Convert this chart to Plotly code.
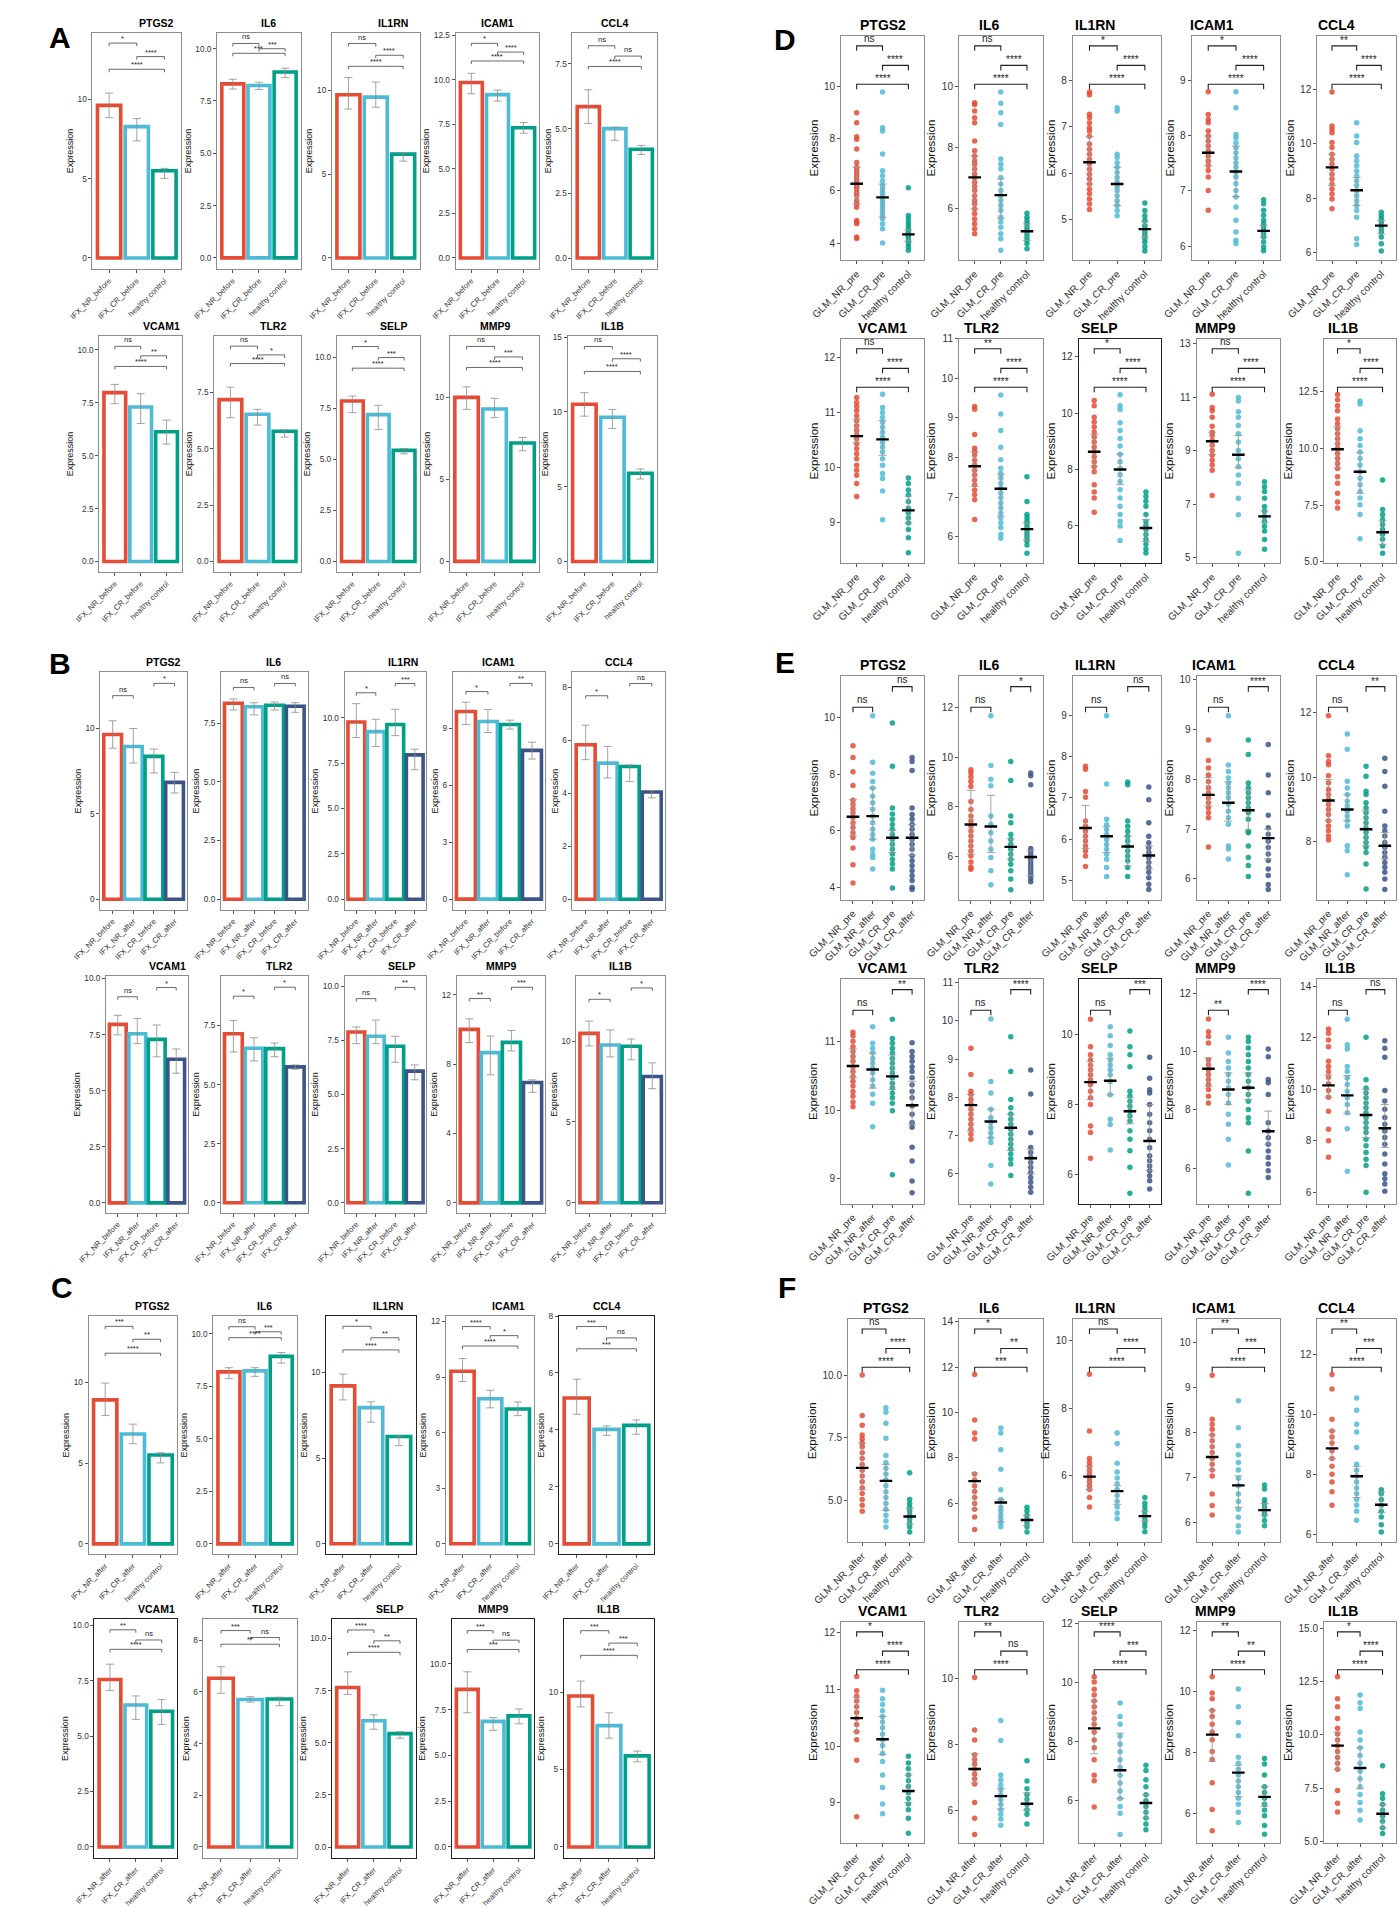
import plotly.graph_objects as go

W, H = 1399, 1908
FONT = "Liberation Sans, Arial, Helvetica, sans-serif"
NARROW = "Liberation Sans Narrow, Arial Narrow, Liberation Sans, Arial, sans-serif"
NPG = ["#E64B35", "#4DBBD5", "#00A087", "#3C5488"]
GENES = ["PTGS2", "IL6", "IL1RN", "ICAM1", "CCL4", "VCAM1", "TLR2", "SELP", "MMP9", "IL1B"]

# ---------------- bar panels (A, B, C): mean, error bar low / high ----------------
A_GROUPS = ["IFX_NR_before", "IFX_CR_before", "healthy control"]
A_MEAN = {
    "PTGS2": [9.62, 8.28, 5.50], "IL6": [8.32, 8.24, 8.89], "IL1RN": [9.74, 9.60, 6.20],
    "ICAM1": [9.84, 9.16, 7.30], "CCL4": [5.85, 5.00, 4.20], "VCAM1": [7.98, 7.30, 6.13],
    "TLR2": [7.17, 6.52, 5.77], "SELP": [7.87, 7.20, 5.45], "MMP9": [9.98, 9.27, 7.20],
    "IL1B": [10.52, 9.65, 5.90],
}
A_LO = {
    "PTGS2": [8.85, 7.38, 5.02], "IL6": [8.07, 8.05, 8.62], "IL1RN": [8.89, 9.00, 5.78],
    "ICAM1": [9.21, 8.80, 7.00], "CCL4": [5.20, 4.55, 4.00], "VCAM1": [7.46, 6.52, 5.55],
    "TLR2": [6.37, 6.04, 5.51], "SELP": [7.30, 6.47, 5.28], "MMP9": [9.25, 8.75, 6.73],
    "IL1B": [9.72, 8.90, 5.52],
}
A_HI = {
    "PTGS2": [10.40, 8.79, 5.65], "IL6": [8.54, 8.40, 9.07], "IL1RN": [10.77, 10.50, 6.26],
    "ICAM1": [10.36, 9.42, 7.60], "CCL4": [6.50, 5.05, 4.35], "VCAM1": [8.37, 7.93, 6.68],
    "TLR2": [7.72, 6.74, 5.83], "SELP": [8.11, 7.66, 5.54], "MMP9": [10.62, 9.92, 7.54],
    "IL1B": [11.29, 10.16, 6.19],
}
A_SIG = {
    "PTGS2": [("*", 1, 2, 13.55), ("****", 2, 3, 12.7), ("****", 1, 3, 11.9)],
    "IL6": [("ns", 1, 2, 10.25), ("***", 2, 3, 10.0), ("***", 1, 3, 9.78)],
    "IL1RN": [("ns", 1, 2, 12.8), ("****", 2, 3, 12.1), ("****", 1, 3, 11.44)],
    "ICAM1": [("*", 1, 2, 12.04), ("****", 2, 3, 11.55), ("****", 1, 3, 11.05)],
    "CCL4": [("ns", 1, 2, 8.2), ("ns", 2, 3, 7.8), ("****", 1, 3, 7.4)],
    "VCAM1": [("ns", 1, 2, 10.17), ("**", 2, 3, 9.72), ("****", 1, 3, 9.22)],
    "TLR2": [("ns", 1, 2, 9.54), ("*", 2, 3, 9.15), ("****", 1, 3, 8.77)],
    "SELP": [("*", 1, 2, 10.54), ("***", 2, 3, 10.0), ("****", 1, 3, 9.48)],
    "MMP9": [("ns", 1, 2, 13.08), ("***", 2, 3, 12.44), ("****", 1, 3, 11.8)],
    "IL1B": [("ns", 1, 2, 14.38), ("****", 2, 3, 13.56), ("****", 1, 3, 12.71)],
}

B_GROUPS = ["IFX_NR_before", "IFX_NR_after", "IFX_CR_before", "IFX_CR_after"]
B_MEAN = {
    "PTGS2": [9.63, 8.93, 8.35, 6.83], "IL6": [8.35, 8.20, 8.26, 8.22],
    "IL1RN": [9.76, 9.23, 9.62, 7.95], "ICAM1": [9.90, 9.37, 9.21, 7.85],
    "CCL4": [5.82, 5.13, 5.00, 4.04], "VCAM1": [7.96, 7.54, 7.29, 6.40],
    "TLR2": [7.15, 6.54, 6.52, 5.75], "SELP": [7.89, 7.69, 7.23, 6.08],
    "MMP9": [10.0, 8.66, 9.25, 6.94], "IL1B": [10.49, 9.77, 9.69, 7.82],
}
B_LO = {
    "PTGS2": [8.83, 7.96, 7.38, 6.21], "IL6": [8.06, 7.85, 8.06, 7.96],
    "IL1RN": [8.90, 8.41, 9.01, 7.13], "ICAM1": [9.21, 8.79, 8.97, 7.39],
    "CCL4": [5.26, 4.57, 4.44, 3.82], "VCAM1": [7.49, 7.10, 6.51, 5.78],
    "TLR2": [6.38, 6.00, 6.18, 5.65], "SELP": [7.35, 7.35, 6.49, 5.68],
    "MMP9": [9.24, 7.38, 8.76, 6.37], "IL1B": [9.71, 9.03, 8.85, 7.06],
}
B_HI = {
    "PTGS2": [10.43, 9.98, 8.78, 7.42], "IL6": [8.53, 8.37, 8.40, 8.37],
    "IL1RN": [10.77, 9.91, 10.46, 8.26], "ICAM1": [10.39, 10.0, 9.44, 8.28],
    "CCL4": [6.56, 5.76, 5.06, 4.10], "VCAM1": [8.36, 8.22, 7.93, 6.86],
    "TLR2": [7.71, 6.98, 6.76, 5.83], "SELP": [8.12, 8.44, 7.69, 6.37],
    "MMP9": [10.61, 9.62, 9.94, 7.09], "IL1B": [11.25, 10.70, 10.14, 8.66],
}
B_SIG = {
    "PTGS2": [("ns", 1, 2, 11.9), ("*", 3, 4, 12.62)],
    "IL6": [("ns", 1, 2, 9.02), ("ns", 3, 4, 9.19)],
    "IL1RN": [("*", 1, 2, 11.37), ("***", 3, 4, 11.88)],
    "ICAM1": [("*", 1, 2, 10.95), ("**", 3, 4, 11.38)],
    "CCL4": [("*", 1, 2, 7.67), ("ns", 3, 4, 8.13)],
    "VCAM1": [("ns", 1, 2, 9.19), ("*", 3, 4, 9.6)],
    "TLR2": [("*", 1, 2, 8.74), ("*", 3, 4, 9.12)],
    "SELP": [("ns", 1, 2, 9.43), ("**", 3, 4, 9.95)],
    "MMP9": [("**", 1, 2, 11.78), ("***", 3, 4, 12.43)],
    "IL1B": [("*", 1, 2, 12.6), ("*", 3, 4, 13.3)],
}

C_GROUPS = ["IFX_NR_after", "IFX_CR_after", "healthy control"]
C_MEAN = {
    "PTGS2": [8.91, 6.80, 5.50], "IL6": [8.18, 8.23, 8.92], "IL1RN": [9.22, 7.95, 6.26],
    "ICAM1": [9.32, 7.83, 7.28], "CCL4": [5.12, 4.02, 4.16], "VCAM1": [7.55, 6.40, 6.12],
    "TLR2": [6.53, 5.71, 5.73], "SELP": [7.65, 6.06, 5.44], "MMP9": [8.61, 6.86, 7.16],
    "IL1B": [9.75, 7.83, 5.88],
}
C_LO = {
    "PTGS2": [7.94, 6.20, 5.01], "IL6": [7.86, 7.97, 8.60], "IL1RN": [8.40, 7.10, 5.73],
    "ICAM1": [8.76, 7.34, 6.92], "CCL4": [4.55, 3.81, 3.85], "VCAM1": [7.05, 5.75, 5.52],
    "TLR2": [5.95, 5.61, 5.47], "SELP": [7.32, 5.65, 5.22], "MMP9": [7.33, 6.37, 6.73],
    "IL1B": [9.04, 7.02, 5.50],
}
C_HI = {
    "PTGS2": [9.95, 7.41, 5.64], "IL6": [8.38, 8.38, 9.10], "IL1RN": [9.91, 8.29, 6.28],
    "ICAM1": [10.0, 8.29, 7.66], "CCL4": [5.78, 4.14, 4.35], "VCAM1": [8.24, 6.81, 6.65],
    "TLR2": [6.98, 5.82, 5.80], "SELP": [8.40, 6.34, 5.53], "MMP9": [9.57, 7.07, 7.54],
    "IL1B": [10.71, 8.66, 6.19],
}
C_SIG = {
    "PTGS2": [("***", 1, 2, 13.46), ("**", 2, 3, 12.66), ("****", 1, 3, 11.8)],
    "IL6": [("ns", 1, 2, 10.33), ("***", 2, 3, 10.09), ("****", 1, 3, 9.81)],
    "IL1RN": [("*", 1, 2, 12.7), ("**", 2, 3, 12.03), ("****", 1, 3, 11.32)],
    "ICAM1": [("****", 1, 2, 11.73), ("*", 2, 3, 11.24), ("****", 1, 3, 10.68)],
    "CCL4": [("***", 1, 2, 7.63), ("ns", 2, 3, 7.23), ("***", 1, 3, 6.85)],
    "VCAM1": [("**", 1, 2, 9.79), ("ns", 2, 3, 9.33), ("****", 1, 3, 8.91)],
    "TLR2": [("***", 1, 2, 8.38), ("ns", 2, 3, 8.11), ("**", 1, 3, 7.85)],
    "SELP": [("****", 1, 2, 10.41), ("**", 2, 3, 9.89), ("****", 1, 3, 9.34)],
    "MMP9": [("***", 1, 2, 11.82), ("ns", 2, 3, 11.3), ("***", 1, 3, 10.79)],
    "IL1B": [("***", 1, 2, 13.96), ("***", 2, 3, 13.16), ("****", 1, 3, 12.37)],
}

# y axis (range low, range high, tick values) for every bar subplot
A_AXIS = {
    "PTGS2": (-0.71, 14.2, [0, 5, 10]), "IL6": (-0.54, 10.76, [0, 2.5, 5, 7.5, 10]),
    "IL1RN": (-0.67, 13.44, [0, 5, 10]), "ICAM1": (-0.63, 12.63, [0, 2.5, 5, 7.5, 10, 12.5]),
    "CCL4": (-0.43, 8.7, [0, 2.5, 5, 7.5]), "VCAM1": (-0.5, 10.67, [0, 2.5, 5, 7.5, 10]),
    "TLR2": (-0.47, 10.0, [0, 2.5, 5, 7.5]), "SELP": (-0.52, 11.07, [0, 2.5, 5, 7.5, 10]),
    "MMP9": (-0.65, 13.73, [0, 5, 10]), "IL1B": (-0.71, 15.1, [0, 5, 10, 15]),
}
B_AXIS = {
    "PTGS2": (-0.62, 13.26, [0, 5, 10]), "IL6": (-0.45, 9.66, [0, 2.5, 5, 7.5]),
    "IL1RN": (-0.58, 12.49, [0, 2.5, 5, 7.5, 10]), "ICAM1": (-0.56, 11.96, [0, 3, 6, 9]),
    "CCL4": (-0.4, 8.55, [0, 2, 4, 6, 8]), "VCAM1": (-0.44, 10.1, [0, 2.5, 5, 7.5, 10]),
    "TLR2": (-0.42, 9.58, [0, 2.5, 5, 7.5]), "SELP": (-0.46, 10.46, [0, 2.5, 5, 7.5, 10]),
    "MMP9": (-0.57, 13.06, [0, 4, 8, 12]), "IL1B": (-0.62, 14.02, [0, 5, 10]),
}
C_AXIS = {
    "PTGS2": (-0.65, 14.1, [0, 5, 10]), "IL6": (-0.5, 10.84, [0, 2.5, 5, 7.5, 10]),
    "IL1RN": (-0.62, 13.3, [0, 5, 10]), "ICAM1": (-0.57, 12.3, [0, 3, 6, 9, 12]),
    "CCL4": (-0.37, 8.0, [0, 2, 4, 6, 8]), "VCAM1": (-0.51, 10.28, [0, 2.5, 5, 7.5, 10]),
    "TLR2": (-0.44, 8.83, [0, 2, 4, 6, 8]), "SELP": (-0.54, 10.94, [0, 2.5, 5, 7.5, 10]),
    "MMP9": (-0.62, 12.46, [0, 2.5, 5, 7.5, 10]), "IL1B": (-0.73, 14.72, [0, 5, 10]),
}

# ---------------- dot panels (D, E, F): points per group, median, error bar ----------------
D_GROUPS = ["GLM_NR_pre", "GLM_CR_pre", "healthy control"]
D_PTS = {
    "PTGS2": [[8.99, 8.61, 8.07, 7.98, 7.6, 7.09, 6.9, 6.77, 6.64, 6.52, 6.39, 6.26, 6.16, 6.07, 5.94, 5.82, 5.63, 5.5, 5.37, 4.86, 4.8, 4.74, 4.23, 4.17],
              [9.79, 8.42, 8.29, 7.41, 6.77, 6.58, 6.39, 6.2, 6.07, 5.94, 5.82, 5.69, 5.56, 5.44, 5.31, 5.18, 5.05, 4.93, 4.74, 4.55, 4.0],
              [6.12, 5.05, 4.93, 4.8, 4.67, 4.55, 4.42, 4.36, 4.29, 4.23, 4.1, 3.97, 3.85, 3.72]],
    "IL6": [[9.47, 9.41, 9.2, 8.98, 8.82, 8.22, 7.9, 7.73, 7.57, 7.46, 7.3, 7.14, 7.03, 6.87, 6.73, 6.6, 6.43, 6.27, 6.16, 6.0, 5.84, 5.67, 5.51, 5.35, 5.19],
            [9.82, 9.45, 9.14, 8.76, 7.63, 7.46, 7.3, 7.03, 6.81, 6.6, 6.43, 6.27, 6.11, 5.95, 5.73, 5.57, 5.4, 5.19, 5.02, 4.65],
            [5.86, 5.73, 5.62, 5.51, 5.4, 5.3, 5.19, 5.08, 4.97, 4.86, 4.7]],
    "IL1RN": [[7.75, 7.69, 7.27, 7.2, 7.09, 6.98, 6.91, 6.8, 6.63, 6.52, 6.41, 6.3, 6.2, 6.09, 5.98, 5.88, 5.77, 5.66, 5.56, 5.45, 5.34, 5.22],
              [7.41, 7.34, 6.41, 6.34, 6.23, 6.13, 6.02, 5.91, 5.81, 5.71, 5.63, 5.52, 5.41, 5.31, 5.2, 5.09],
              [5.36, 5.2, 5.09, 4.99, 4.88, 4.81, 4.74, 4.67, 4.59, 4.52, 4.42, 4.33]],
    "ICAM1": [[8.79, 8.38, 8.29, 8.23, 8.08, 7.99, 7.9, 7.81, 7.72, 7.63, 7.54, 7.46, 7.37, 7.25, 7.01, 6.65],
              [8.79, 8.5, 8.02, 7.96, 7.87, 7.78, 7.69, 7.6, 7.51, 7.43, 7.34, 7.25, 7.13, 7.01, 6.89, 6.71, 6.47, 6.26, 6.11, 6.05],
              [6.84, 6.77, 6.65, 6.56, 6.47, 6.41, 6.35, 6.29, 6.23, 6.17, 6.08, 5.99, 5.92]],
    "CCL4": [[11.9, 10.65, 10.53, 10.4, 10.04, 9.86, 9.61, 9.43, 9.25, 9.07, 8.88, 8.7, 8.52, 8.34, 8.15, 7.97, 7.61],
             [10.77, 10.28, 10.04, 9.55, 9.37, 9.19, 9.0, 8.82, 8.64, 8.46, 8.27, 8.09, 7.9, 7.73, 7.55, 7.3, 6.51, 6.3],
             [7.48, 7.36, 7.24, 7.12, 7.0, 6.88, 6.75, 6.57, 6.33, 6.06]],
    "VCAM1": [[11.27, 11.18, 11.11, 11.03, 10.94, 10.85, 10.76, 10.67, 10.59, 10.52, 10.43, 10.34, 10.25, 10.16, 10.04, 9.95, 9.86, 9.71, 9.47],
              [11.33, 11.09, 11.0, 10.91, 10.82, 10.73, 10.64, 10.55, 10.46, 10.37, 10.28, 10.16, 10.04, 9.89, 9.8, 9.57, 9.05],
              [9.81, 9.71, 9.59, 9.5, 9.38, 9.26, 9.17, 9.08, 8.99, 8.87, 8.72, 8.45]],
    "TLR2": [[9.29, 9.22, 8.58, 8.23, 8.16, 8.06, 7.93, 7.81, 7.68, 7.56, 7.43, 7.31, 7.18, 7.06, 6.93, 6.43],
             [9.58, 9.1, 8.68, 8.26, 7.94, 7.73, 7.6, 7.48, 7.35, 7.23, 7.1, 6.98, 6.85, 6.73, 6.6, 6.48, 6.35, 6.23, 6.06, 5.96],
             [7.51, 6.89, 6.56, 6.48, 6.39, 6.31, 6.23, 6.14, 6.06, 5.98, 5.89, 5.79, 5.58]],
    "SELP": [[10.45, 10.27, 9.86, 9.69, 9.51, 9.33, 9.16, 8.98, 8.8, 8.63, 8.45, 8.28, 8.1, 7.92, 7.46, 7.2, 6.99, 6.48],
             [10.66, 10.27, 10.13, 9.66, 9.39, 9.1, 8.84, 8.54, 8.28, 8.04, 7.81, 7.57, 7.28, 6.99, 6.69, 6.4, 6.16, 5.99, 5.48],
             [7.2, 7.04, 6.87, 6.69, 6.4, 6.16, 6.02, 5.87, 5.69, 5.52, 5.34, 5.17, 5.03]],
    "MMP9": [[11.11, 10.62, 10.49, 10.25, 9.91, 9.69, 9.57, 9.38, 9.2, 9.01, 8.83, 8.64, 8.46, 8.27, 7.32],
             [10.99, 10.86, 10.46, 10.25, 9.94, 9.63, 9.32, 9.01, 8.7, 8.4, 8.09, 7.78, 7.22, 6.6, 5.16],
             [7.84, 7.65, 7.47, 7.22, 6.91, 6.73, 6.54, 6.36, 6.17, 5.99, 5.68, 5.31]],
    "IL1B": [[12.37, 12.14, 11.88, 11.66, 11.29, 11.08, 10.86, 10.64, 10.42, 10.2, 9.99, 9.77, 9.55, 9.33, 9.11, 8.75, 8.46, 8.02, 7.63, 7.37],
             [12.09, 11.95, 10.78, 10.42, 10.13, 9.84, 9.55, 9.26, 8.97, 8.68, 8.39, 8.1, 7.81, 7.51, 7.08, 6.02],
             [8.6, 7.3, 7.08, 6.86, 6.64, 6.42, 6.21, 5.99, 5.7, 5.38]],
}
D_MED = {"PTGS2": [6.27, 5.75, 4.33], "IL6": [7.03, 6.45, 5.27], "IL1RN": [6.24, 5.77, 4.8],
         "ICAM1": [7.69, 7.35, 6.28], "CCL4": [9.13, 8.29, 6.99], "VCAM1": [10.57, 10.51, 9.22],
         "TLR2": [7.78, 7.21, 6.19], "SELP": [8.63, 8.0, 5.92], "MMP9": [9.35, 8.85, 6.54],
         "IL1B": [9.96, 8.97, 6.3]}
D_LO = {"PTGS2": [5.5, 4.99, 4.05], "IL6": [6.0, 5.68, 4.97], "IL1RN": [5.77, 5.31, 4.63],
        "ICAM1": [7.46, 6.9, 6.17], "CCL4": [8.46, 7.73, 6.69], "VCAM1": [10.45, 10.22, 8.99],
        "TLR2": [7.27, 6.52, 5.91], "SELP": [8.13, 7.46, 5.44], "MMP9": [8.85, 8.36, 6.3],
        "IL1B": [9.14, 8.02, 5.77]}
D_HI = {"PTGS2": [6.9, 6.26, 4.5], "IL6": [7.73, 6.98, 5.51], "IL1RN": [6.79, 6.13, 4.95],
        "ICAM1": [7.99, 7.81, 6.38], "CCL4": [9.61, 8.76, 7.18], "VCAM1": [10.88, 10.85, 9.48],
        "TLR2": [8.14, 7.56, 6.35], "SELP": [9.24, 8.55, 6.22], "MMP9": [9.69, 9.57, 6.75],
        "IL1B": [10.97, 9.81, 6.79]}
D_SIG = {"PTGS2": ["ns", "****", "****"], "IL6": ["ns", "****", "****"], "IL1RN": ["*", "****", "****"],
         "ICAM1": ["*", "****", "****"], "CCL4": ["**", "****", "****"], "VCAM1": ["ns", "****", "****"],
         "TLR2": ["**", "****", "****"], "SELP": ["*", "****", "****"], "MMP9": ["ns", "****", "****"],
         "IL1B": ["*", "****", "****"]}

E_GROUPS = ["GLM_NR_pre", "GLM_NR_after", "GLM_CR_pre", "GLM_CR_after"]
E_PTS = {
    "PTGS2": [[8.99, 8.58, 8.08, 7.6, 7.08, 6.93, 6.78, 6.64, 6.47, 6.29, 6.12, 5.94, 5.77, 5.4, 4.81, 4.17],
              [10.05, 8.41, 8.03, 7.74, 7.51, 7.22, 6.99, 6.76, 6.52, 6.29, 6.06, 5.88, 5.71, 5.36, 5.19, 5.07, 4.66],
              [9.79, 8.27, 6.81, 6.6, 6.41, 6.23, 6.06, 5.88, 5.71, 5.53, 5.36, 5.19, 5.01, 4.84, 4.66, 4.0],
              [8.58, 8.44, 8.12, 6.81, 6.58, 6.41, 6.23, 6.06, 5.88, 5.71, 5.53, 5.36, 5.13, 4.95, 4.78, 4.6, 4.43, 4.26, 4.02, 3.94]],
    "IL6": [[9.49, 9.36, 9.2, 9.02, 8.82, 8.21, 7.89, 7.62, 7.42, 7.22, 7.02, 6.82, 6.62, 6.41, 6.21, 6.01, 5.77, 5.57, 5.48],
            [11.67, 9.66, 9.11, 8.85, 7.62, 7.28, 6.95, 6.62, 6.28, 5.95, 5.41, 4.85],
            [9.82, 9.06, 7.62, 7.35, 6.88, 6.68, 6.48, 6.28, 6.08, 5.88, 5.68, 5.41, 5.08, 4.65],
            [9.36, 9.25, 8.89, 6.31, 6.17, 6.04, 5.91, 5.77, 5.64, 5.51, 5.37, 5.24, 5.1, 4.97]],
    "IL1RN": [[7.77, 7.7, 7.16, 7.02, 6.44, 6.31, 6.19, 6.07, 5.95, 5.83, 5.71, 5.59, 5.33],
              [9.0, 7.34, 6.48, 6.35, 6.23, 6.11, 5.99, 5.87, 5.75, 5.63, 5.51, 5.31, 5.09],
              [7.39, 7.32, 6.44, 6.31, 6.19, 6.07, 5.95, 5.83, 5.71, 5.59, 5.47, 5.31, 5.09],
              [7.27, 6.96, 6.4, 6.07, 5.91, 5.79, 5.67, 5.55, 5.43, 5.31, 5.19, 5.06, 4.9, 4.77]],
    "ICAM1": [[8.79, 8.38, 8.23, 8.09, 7.96, 7.83, 7.73, 7.63, 7.53, 7.43, 7.33, 7.23, 6.64],
              [9.28, 8.29, 8.16, 8.03, 7.93, 7.83, 7.73, 7.63, 7.5, 7.36, 7.23, 7.1, 6.66, 6.6, 6.4],
              [8.79, 8.5, 7.93, 7.83, 7.73, 7.63, 7.53, 7.43, 7.33, 7.2, 6.96, 6.93, 6.66, 6.43, 6.27, 6.05],
              [8.7, 8.09, 7.73, 7.28, 7.03, 6.9, 6.76, 6.63, 6.5, 6.37, 6.2, 6.07, 5.89, 5.79]],
    "CCL4": [[11.9, 10.66, 10.48, 10.38, 10.04, 9.82, 9.61, 9.46, 9.3, 9.15, 8.99, 8.84, 8.64, 8.48, 8.33, 8.17, 8.05],
             [11.33, 10.86, 9.87, 9.66, 9.46, 9.25, 9.1, 8.94, 8.79, 8.64, 8.48, 7.87, 7.71, 6.97],
             [10.33, 10.02, 9.56, 9.46, 9.2, 9.05, 8.89, 8.74, 8.58, 8.43, 8.28, 8.12, 7.97, 7.82, 7.66, 7.3, 6.53],
             [10.58, 10.17, 9.71, 8.94, 8.48, 8.33, 8.17, 7.97, 7.82, 7.66, 7.51, 7.35, 7.2, 7.05, 6.84, 6.51]],
    "VCAM1": [[11.13, 11.08, 11.0, 10.92, 10.85, 10.78, 10.71, 10.63, 10.56, 10.49, 10.42, 10.35, 10.27, 10.2, 10.12, 10.05],
              [11.21, 10.97, 10.9, 10.83, 10.75, 10.68, 10.61, 10.54, 10.44, 10.35, 10.23, 10.1, 9.76],
              [11.32, 11.04, 10.97, 10.9, 10.83, 10.75, 10.68, 10.61, 10.54, 10.47, 10.39, 10.32, 10.25, 10.18, 10.1, 9.99, 9.06],
              [10.98, 10.85, 10.78, 10.71, 10.63, 10.56, 10.47, 10.37, 10.27, 10.18, 10.06, 9.94, 9.82, 9.75, 9.46, 9.26, 8.97, 8.8]],
    "TLR2": [[9.29, 8.6, 8.16, 8.08, 7.95, 7.82, 7.69, 7.56, 7.43, 7.3, 7.17, 7.04, 6.91],
             [10.05, 8.42, 8.12, 7.69, 7.47, 7.34, 7.21, 7.08, 6.95, 6.82, 6.22, 5.74],
             [9.59, 8.68, 7.95, 7.73, 7.57, 7.43, 7.3, 7.17, 7.04, 6.91, 6.78, 6.65, 6.52, 6.39, 6.26, 5.96],
             [8.72, 8.09, 7.08, 6.69, 6.56, 6.43, 6.3, 6.17, 6.04, 5.91, 5.78, 5.65, 5.52]],
    "SELP": [[10.43, 9.65, 9.42, 9.27, 9.13, 8.99, 8.85, 8.71, 8.57, 8.38, 8.19, 8.0, 7.39, 7.2, 6.47],
             [10.22, 9.96, 9.68, 9.42, 9.27, 9.13, 8.99, 8.85, 8.66, 8.28, 7.58, 7.43, 6.7],
             [10.1, 9.65, 9.42, 9.08, 8.38, 8.24, 8.09, 7.95, 7.81, 7.67, 7.53, 7.25, 7.01, 6.68, 6.21, 5.47],
             [9.35, 8.75, 8.42, 8.33, 8.0, 7.72, 7.48, 7.25, 7.01, 6.77, 6.54, 6.4, 6.25, 6.11, 5.97, 5.83, 5.59]],
    "MMP9": [[11.11, 10.68, 10.51, 10.29, 9.72, 9.55, 9.38, 9.21, 9.04, 8.87, 8.7, 8.47, 8.24],
             [10.49, 9.95, 9.66, 9.44, 9.21, 8.98, 8.76, 8.53, 8.24, 7.85, 7.51, 7.0, 6.12],
             [10.49, 10.34, 10.12, 9.89, 9.66, 9.44, 9.21, 8.98, 8.76, 8.53, 8.3, 8.02, 7.73, 7.56, 6.6, 5.15],
             [10.09, 9.82, 9.04, 8.93, 8.53, 7.56, 7.28, 7.05, 6.83, 6.6, 6.37, 6.15, 5.92, 5.69]],
    "IL1B": [[12.33, 12.17, 11.91, 11.65, 11.08, 10.88, 10.69, 10.46, 10.21, 9.95, 9.69, 9.15, 8.45, 8.0, 7.36],
             [12.71, 11.72, 11.56, 10.88, 10.69, 10.44, 10.18, 9.92, 9.67, 9.41, 9.09, 8.47, 6.82],
             [12.01, 10.37, 10.05, 9.86, 9.67, 9.47, 9.28, 9.09, 8.9, 8.71, 8.51, 8.32, 8.06, 7.81, 7.55, 7.29, 7.04, 6.01],
             [11.88, 11.59, 11.24, 9.95, 9.54, 9.22, 8.9, 8.64, 8.38, 8.13, 7.87, 7.49, 7.1, 6.72, 6.53, 6.33, 6.05]],
}
E_MED = {"PTGS2": [6.5, 6.52, 5.76, 5.76], "IL6": [7.28, 7.2, 6.38, 5.97], "IL1RN": [6.27, 6.07, 5.82, 5.6],
         "ICAM1": [7.69, 7.53, 7.38, 6.82], "CCL4": [9.27, 8.99, 8.38, 7.87], "VCAM1": [10.64, 10.59, 10.49, 10.07],
         "TLR2": [7.8, 7.37, 7.21, 6.41], "SELP": [8.64, 8.68, 7.81, 6.96], "MMP9": [9.41, 8.7, 8.76, 7.27],
         "IL1B": [10.15, 9.76, 9.0, 8.49]}
E_LO = {"PTGS2": [5.83, 5.71, 5.24, 5.15], "IL6": [6.08, 6.15, 5.88, 5.21], "IL1RN": [5.77, 5.67, 5.35, 5.27],
        "ICAM1": [7.46, 7.16, 6.98, 6.4], "CCL4": [8.64, 8.64, 7.87, 7.46], "VCAM1": [10.47, 10.32, 10.3, 9.79],
        "TLR2": [7.12, 6.95, 6.61, 6.0], "SELP": [8.14, 8.28, 7.45, 6.11], "MMP9": [8.81, 8.19, 8.36, 6.83],
        "IL1B": [9.69, 9.05, 8.13, 7.74]}
E_HI = {"PTGS2": [7.1, 7.51, 6.02, 6.23], "IL6": [8.66, 8.46, 6.71, 6.25], "IL1RN": [6.82, 6.3, 6.07, 5.83],
        "ICAM1": [8.04, 7.95, 7.79, 7.0], "CCL4": [9.92, 9.46, 8.97, 8.28], "VCAM1": [10.89, 10.83, 10.8, 10.42],
        "TLR2": [8.08, 7.69, 7.56, 6.65], "SELP": [9.23, 9.32, 8.19, 8.0], "MMP9": [9.78, 9.27, 9.27, 7.96],
        "IL1B": [10.56, 10.53, 9.99, 9.41]}
E_SIG = {"PTGS2": ["ns", "ns"], "IL6": ["ns", "*"], "IL1RN": ["ns", "ns"], "ICAM1": ["ns", "****"],
         "CCL4": ["ns", "**"], "VCAM1": ["ns", "**"], "TLR2": ["ns", "****"], "SELP": ["ns", "***"],
         "MMP9": ["**", "****"], "IL1B": ["ns", "ns"]}

F_GROUPS = ["GLM_NR_after", "GLM_CR_after", "healthy control"]
F_PTS = {
    "PTGS2": [[10.02, 8.4, 8.01, 7.62, 7.46, 7.3, 7.15, 6.91, 6.68, 6.44, 6.21, 5.97, 5.74, 5.5, 5.27, 5.03, 4.8, 4.56],
              [8.71, 8.53, 8.09, 7.49, 6.8, 6.52, 6.29, 6.05, 5.82, 5.58, 5.34, 5.11, 4.87, 4.64, 4.4, 4.17, 3.93],
              [6.1, 5.03, 4.87, 4.72, 4.56, 4.4, 4.25, 4.09, 3.93, 3.73]],
    "IL6": [[11.68, 9.67, 9.1, 8.84, 7.29, 7.03, 6.77, 6.52, 6.26, 6.0, 5.74, 5.4, 4.85],
            [9.32, 9.1, 8.36, 7.5, 6.6, 6.17, 5.83, 5.66, 5.48, 5.31, 5.14, 4.97],
            [5.83, 5.66, 5.48, 5.31, 5.14, 4.97, 4.74]],
    "IL1RN": [[9.01, 7.33, 6.52, 6.4, 6.29, 6.17, 6.06, 5.94, 5.83, 5.71, 5.6, 5.36, 5.08],
              [7.27, 6.96, 6.38, 6.12, 5.94, 5.77, 5.6, 5.42, 5.25, 5.08, 4.9, 4.73],
              [5.36, 5.19, 5.08, 4.96, 4.84, 4.73, 4.61, 4.5, 4.35]],
    "ICAM1": [[9.27, 8.29, 8.18, 8.07, 7.94, 7.81, 7.68, 7.55, 7.42, 7.29, 7.16, 7.03, 6.63, 6.37, 6.16],
              [8.7, 8.1, 7.7, 7.5, 7.33, 7.16, 6.98, 6.81, 6.63, 6.46, 6.29, 6.11, 5.92, 5.78],
              [6.83, 6.74, 6.5, 6.42, 6.33, 6.24, 6.16, 6.04, 5.92]],
    "CCL4": [[11.35, 10.86, 9.85, 9.46, 9.26, 9.06, 8.8, 8.54, 8.28, 8.02, 7.76, 7.43, 6.98],
             [10.56, 10.15, 9.69, 9.43, 8.91, 8.35, 8.15, 7.96, 7.76, 7.56, 7.37, 7.17, 6.98, 6.78, 6.48],
             [7.5, 7.37, 7.17, 6.98, 6.78, 6.59, 6.33, 6.09]],
    "VCAM1": [[11.22, 10.97, 10.88, 10.79, 10.69, 10.59, 10.49, 10.38, 10.25, 10.11, 9.75, 8.76],
              [10.98, 10.83, 10.73, 10.62, 10.52, 10.42, 10.32, 10.21, 10.11, 10.01, 9.87, 9.73, 9.49, 9.27, 8.98, 8.81],
              [9.82, 9.7, 9.6, 9.49, 9.39, 9.29, 9.18, 9.08, 8.98, 8.88, 8.73, 8.47]],
    "TLR2": [[10.02, 8.43, 8.13, 7.68, 7.54, 7.4, 7.24, 7.09, 6.95, 6.8, 6.24, 5.76, 5.27],
             [8.72, 8.11, 7.07, 6.92, 6.77, 6.62, 6.47, 6.33, 6.18, 6.02, 5.88, 5.74, 5.55],
             [7.5, 6.89, 6.65, 6.47, 6.33, 6.18, 6.02, 5.88, 5.59]],
    "SELP": [[10.21, 10.03, 9.79, 9.59, 9.39, 9.19, 8.99, 8.79, 8.6, 8.33, 8.07, 7.8, 7.4, 6.87, 6.68, 5.79],
             [9.32, 8.86, 8.6, 8.2, 7.93, 7.67, 7.4, 7.14, 6.87, 6.61, 6.34, 6.08, 5.81, 5.58, 4.86],
             [7.21, 7.03, 6.72, 6.48, 6.21, 6.01, 5.81, 5.62, 5.42, 5.22, 5.02]],
    "MMP9": [[10.48, 9.95, 9.76, 9.38, 9.18, 8.93, 8.68, 8.42, 8.04, 7.78, 7.02, 6.15, 5.45],
             [10.08, 9.5, 8.99, 8.55, 7.85, 7.66, 7.46, 7.27, 7.08, 6.89, 6.7, 6.51, 6.32, 6.06, 5.72],
             [7.81, 7.63, 7.27, 6.89, 6.7, 6.51, 6.32, 6.13, 5.94, 5.62, 5.34]],
    "IL1B": [[12.74, 11.7, 11.33, 10.78, 10.32, 10.05, 9.77, 9.5, 9.22, 8.94, 8.67, 8.39, 7.39, 6.8, 6.38],
             [11.88, 11.51, 11.24, 10.14, 9.77, 9.4, 9.04, 8.67, 8.3, 7.94, 7.57, 7.2, 6.83, 6.47, 6.01],
             [8.56, 7.24, 7.02, 6.74, 6.47, 6.19, 5.95, 5.64, 5.37]],
}
F_MED = {"PTGS2": [6.3, 5.78, 4.35], "IL6": [6.98, 6.04, 5.27], "IL1RN": [5.98, 5.55, 4.81],
         "ICAM1": [7.45, 6.82, 6.27], "CCL4": [8.88, 7.95, 7.0], "VCAM1": [10.49, 10.12, 9.21],
         "TLR2": [7.25, 6.43, 6.2], "SELP": [8.46, 7.04, 5.93], "MMP9": [8.59, 7.35, 6.56],
         "IL1B": [9.5, 8.45, 6.3]}
F_LO = {"PTGS2": [5.42, 4.59, 4.04], "IL6": [5.74, 5.19, 5.02], "IL1RN": [5.6, 5.16, 4.67],
        "ICAM1": [7.16, 6.33, 6.16], "CCL4": [8.54, 7.24, 6.74], "VCAM1": [10.25, 9.85, 9.01],
        "TLR2": [6.83, 6.04, 6.0], "SELP": [7.6, 6.08, 5.42], "MMP9": [7.72, 6.57, 6.25],
        "IL1B": [8.39, 7.48, 5.64]}
F_HI = {"PTGS2": [7.3, 6.44, 4.67], "IL6": [7.33, 6.17, 5.48], "IL1RN": [6.29, 5.71, 4.96],
        "ICAM1": [7.94, 7.03, 6.42], "CCL4": [9.46, 8.28, 7.43], "VCAM1": [10.85, 10.52, 9.49],
        "TLR2": [7.72, 6.67, 6.53], "SELP": [9.39, 8.3, 6.21], "MMP9": [9.38, 7.59, 6.89],
        "IL1B": [10.14, 9.4, 6.74]}
F_SIG = {"PTGS2": ["ns", "****", "****"], "IL6": ["*", "**", "***"], "IL1RN": ["ns", "****", "****"],
         "ICAM1": ["**", "***", "****"], "CCL4": ["**", "***", "****"], "VCAM1": ["*", "****", "****"],
         "TLR2": ["**", "ns", "****"], "SELP": ["****", "***", "****"], "MMP9": ["**", "**", "****"],
         "IL1B": ["*", "****", "****"]}

D_AXIS = {
    "PTGS2": (3.34, 11.94, [4, 6, 8, 10]), "IL6": (4.32, 11.66, [6, 8, 10]),
    "IL1RN": (4.13, 8.96, [5, 6, 7, 8]), "ICAM1": (5.75, 9.8, [6, 7, 8, 9]),
    "CCL4": (5.72, 13.96, [6, 8, 10, 12]), "VCAM1": (8.26, 12.34, [9, 10, 11, 12]),
    "TLR2": (5.33, 11.0, [6, 7, 8, 9, 10, 11]), "SELP": (4.67, 12.65, [6, 8, 10, 12]),
    "MMP9": (4.79, 13.19, [5, 7, 9, 11, 13]), "IL1B": (4.94, 14.83, [5, 7.5, 10, 12.5]),
}
E_AXIS = {
    "PTGS2": (3.58, 11.43, [4, 6, 8, 10]), "IL6": (4.24, 13.26, [6, 8, 10, 12]),
    "IL1RN": (4.52, 9.96, [5, 6, 7, 8, 9]), "ICAM1": (5.58, 10.07, [6, 7, 8, 9, 10]),
    "CCL4": (6.19, 13.12, [8, 10, 12]), "VCAM1": (8.64, 11.9, [9, 10, 11]),
    "TLR2": (5.22, 11.09, [6, 7, 8, 9, 10, 11]), "SELP": (5.17, 11.57, [6, 8, 10]),
    "MMP9": (4.79, 12.47, [6, 8, 10, 12]), "IL1B": (5.56, 14.26, [6, 8, 10, 12, 14]),
}
F_AXIS = {
    "PTGS2": (3.31, 12.27, [5, 7.5, 10]), "IL6": (4.28, 14.12, [6, 8, 10, 12, 14]),
    "IL1RN": (4.03, 10.65, [6, 8, 10]), "ICAM1": (5.55, 10.52, [6, 7, 8, 9, 10]),
    "CCL4": (5.74, 13.2, [6, 8, 10, 12]), "VCAM1": (8.29, 12.18, [9, 10, 11, 12]),
    "TLR2": (5.0, 11.7, [6, 8, 10]), "SELP": (4.56, 12.07, [6, 8, 10, 12]),
    "MMP9": (5.04, 12.27, [6, 8, 10, 12]), "IL1B": (4.91, 15.31, [5, 7.5, 10, 12.5, 15]),
}

# ---------------- page geometry (pixels) ----------------
POS = {
    "A": ([(28, 266), (333, 571)],
          [[(57, 148), (185, 271), (303, 393), (430, 516), (550, 637)],
           [(64, 149), (182, 271), (308, 393), (424, 516), (545, 637)]]),
    "B": ([(672, 911), (978, 1216)],
          [[(65, 154), (189, 278), (316, 400), (427, 522), (550, 645)],
           [(71, 155), (189, 278), (316, 400), (431, 522), (554, 645)]]),
    "C": ([(1320, 1560), (1625, 1866)],
          [[(53, 144), (181, 267), (297, 389), (420, 511), (536, 634)],
           [(59, 144), (171, 267), (303, 389), (426, 511), (541, 634)]]),
    "D": ([(31, 257), (336, 562)],
          [[(826, 911), (947, 1033), (1064, 1155), (1186, 1277), (1315, 1396)],
           [(826, 911), (947, 1033), (1070, 1155), (1191, 1277), (1322, 1396)]]),
    "E": ([(676, 901), (981, 1207)],
          [[(826, 911), (947, 1033), (1064, 1155), (1191, 1277), (1315, 1396)],
           [(826, 911), (947, 1033), (1070, 1155), (1191, 1277), (1315, 1396)]]),
    "F": ([(1323, 1548), (1628, 1851)],
          [[(833, 911), (947, 1033), (1064, 1155), (1191, 1277), (1315, 1396)],
           [(826, 911), (947, 1033), (1070, 1155), (1191, 1277), (1322, 1396)]]),
}
LETTERS = {"A": (10, 14), "B": (10, 663), "C": (12, 1310), "D": (768, 16), "E": (768, 662), "F": (770, 1310)}
DARK_FRAMES = {("C", "IL1RN"), ("C", "CCL4"), ("C", "VCAM1"), ("C", "SELP"), ("C", "MMP9"),
               ("C", "IL1B"), ("D", "SELP"), ("E", "SELP")}

fig = go.Figure()
axes = {}
shapes = []
annots = []
count = [0]


def tick_text(ticks):
    if all(float(t).is_integer() for t in ticks):
        return [str(int(t)) for t in ticks]
    return [f"{t:.1f}" for t in ticks]


def make_axes(panel, gene, box, yaxis_cfg, groups):
    count[0] += 1
    k = count[0]
    sfx = "" if k == 1 else str(k)
    (x0, x1), (y0, y1) = box
    right = panel in "DEF"
    frame = "#222222" if (panel, gene) in DARK_FRAMES else "#8c8c8c"
    lo, hi, ticks = yaxis_cfg
    n = len(groups)
    axes["xaxis" + sfx] = dict(
        domain=[x0 / W, x1 / W], anchor="y" + sfx, range=[0.4, n + 0.6],
        tickvals=list(range(1, n + 1)), ticktext=groups, tickangle=-45,
        tickfont=dict(size=10 if right else 7.8, color="#333333", family=FONT),
        showline=True, mirror=True, linecolor=frame, linewidth=1,
        ticks="outside", ticklen=3, tickcolor="#555555", showgrid=False, zeroline=False, fixedrange=True,
    )
    axes["yaxis" + sfx] = dict(
        domain=[1 - y1 / H, 1 - y0 / H], anchor="x" + sfx, range=[lo, hi],
        tickvals=ticks, ticktext=tick_text(ticks),
        tickfont=dict(size=10 if right else 8.3, color="#333333", family=FONT),
        title=dict(text="Expression", standoff=3 if right else 2,
                   font=dict(size=11.5 if right else 9, color="#111111", family=FONT)),
        showline=True, mirror=True, linecolor=frame, linewidth=1,
        ticks="outside", ticklen=3, tickcolor="#555555", showgrid=False, zeroline=False, fixedrange=True,
    )
    annots.append(dict(
        x=(x0 + x1) / 2 / W, y=1 - (y0 - (11 if right else 10)) / H, xref="paper", yref="paper",
        text=f"<b>{gene}</b>", showarrow=False, yanchor="middle",
        font=dict(size=14 if right else 10.5, color="black", family=NARROW if right else FONT),
    ))
    return "x" + sfx, "y" + sfx, (y1 - y0), right


def bracket(xid, yid, i, j, y, tick, label, right):
    shapes.append(dict(
        type="path", xref=xid, yref=yid,
        path=f"M {i},{y - tick} L {i},{y} L {j},{y} L {j},{y - tick}",
        line=dict(color="#222222" if right else "#444444", width=1.1 if right else 0.8),
    ))
    annots.append(dict(
        x=(i + j) / 2, y=y, xref=xid, yref=yid, text=label, showarrow=False,
        yanchor="bottom", yshift=-2 if label != "ns" else 0,
        font=dict(size=10 if right else 7.5, color="#222222", family=FONT),
    ))


def bar_subplot(panel, gene, box, groups, mean, lo, hi, sig, axis_cfg):
    xid, yid, hpx, right = make_axes(panel, gene, box, axis_cfg, groups)
    n = len(groups)
    fig.add_trace(go.Bar(
        x=list(range(1, n + 1)), y=mean, width=0.84 if n == 3 else 0.86, xaxis=xid, yaxis=yid,
        marker=dict(color="white", line=dict(color=NPG[:n], width=3.6)),
        error_y=dict(type="data", symmetric=False,
                     array=[h - m for h, m in zip(hi, mean)],
                     arrayminus=[m - l for m, l in zip(mean, lo)],
                     color="#8c8c8c", thickness=0.8, width=4),
        showlegend=False, hoverinfo="skip",
    ))
    span = axis_cfg[1] - axis_cfg[0]
    for label, i, j, y in sig:
        bracket(xid, yid, i, j, y, 3.0 / hpx * span, label, right)


def dot_subplot(panel, gene, box, groups, pts, med, lo, hi, labels, axis_cfg):
    xid, yid, hpx, right = make_axes(panel, gene, box, axis_cfg, groups)
    n = len(groups)
    for g, vals in enumerate(pts):
        fig.add_trace(go.Scatter(
            x=[g + 1] * len(vals), y=vals, mode="markers", xaxis=xid, yaxis=yid,
            marker=dict(color=NPG[g], size=5.5, opacity=0.85, line=dict(width=0)),
            showlegend=False, hoverinfo="skip",
        ))
    fig.add_trace(go.Scatter(
        x=list(range(1, n + 1)), y=med, mode="markers", xaxis=xid, yaxis=yid,
        marker=dict(symbol="line-ew", size=9, color="black", line=dict(color="black", width=2.4)),
        error_y=dict(type="data", symmetric=False,
                     array=[h - m for h, m in zip(hi, med)],
                     arrayminus=[m - l for m, l in zip(med, lo)],
                     color="#9a9a9a", thickness=0.9, width=4),
        showlegend=False, hoverinfo="skip",
    ))
    top, span = axis_cfg[1], axis_cfg[1] - axis_cfg[0]
    tick = 5.0 / hpx * span
    if n == 3:
        pairs = [(1, 2, 0.045), (2, 3, 0.132), (1, 3, 0.216)]
    else:
        pairs = [(1, 2, 0.138), (3, 4, 0.046)]
    for (i, j, frac), label in zip(pairs, labels):
        bracket(xid, yid, i, j, top - frac * span, tick, label, right)


BAR_SETS = {"A": (A_GROUPS, A_MEAN, A_LO, A_HI, A_SIG, A_AXIS),
            "B": (B_GROUPS, B_MEAN, B_LO, B_HI, B_SIG, B_AXIS),
            "C": (C_GROUPS, C_MEAN, C_LO, C_HI, C_SIG, C_AXIS)}
DOT_SETS = {"D": (D_GROUPS, D_PTS, D_MED, D_LO, D_HI, D_SIG, D_AXIS),
            "E": (E_GROUPS, E_PTS, E_MED, E_LO, E_HI, E_SIG, E_AXIS),
            "F": (F_GROUPS, F_PTS, F_MED, F_LO, F_HI, F_SIG, F_AXIS)}

for panel in "ABCDEF":
    rows, cols = POS[panel]
    for gi, gene in enumerate(GENES):
        r, c = divmod(gi, 5)
        box = (cols[r][c], rows[r])
        if panel in BAR_SETS:
            groups, mean, lo, hi, sig, ax = BAR_SETS[panel]
            bar_subplot(panel, gene, box, groups, mean[gene], lo[gene], hi[gene], sig[gene], ax[gene])
        else:
            groups, pts, med, lo, hi, sig, ax = DOT_SETS[panel]
            dot_subplot(panel, gene, box, groups, pts[gene], med[gene], lo[gene], hi[gene], sig[gene], ax[gene])
    lx, ly = LETTERS[panel]
    annots.append(dict(x=lx / W, y=1 - ly / H, xref="paper", yref="paper", text=f"<b>{panel}</b>",
                       showarrow=False, font=dict(size=30, color="black", family=FONT)))

fig.update_layout(
    width=W, height=H, margin=dict(l=0, r=0, t=0, b=0),
    paper_bgcolor="white", plot_bgcolor="white",
    font=dict(family=FONT, color="#222222"),
    showlegend=False, shapes=shapes, annotations=annots, **axes,
)
# the page's default body margin would push the figure off the window edges
fig.write_html("out.html", config={"displayModeBar": False},
               post_script="document.body.style.margin='0';document.body.style.overflow='hidden';")
